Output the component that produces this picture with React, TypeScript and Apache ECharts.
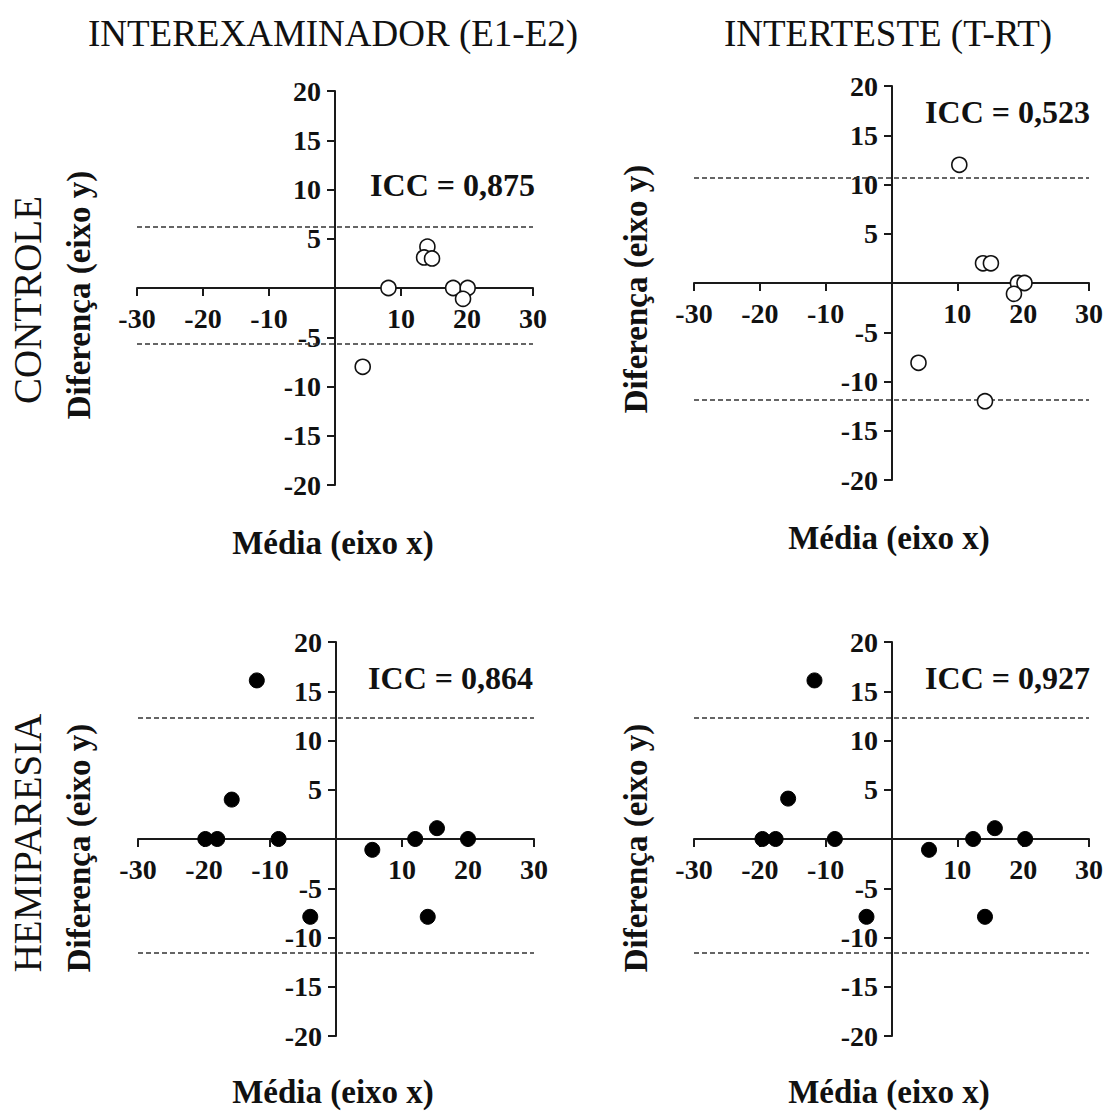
import React, { useEffect, useRef } from "react";
import * as echarts from "echarts";

const FONT = '"Liberation Serif", "Times New Roman", serif';

// Column / row labels
const colTitles = ["INTEREXAMINADOR (E1-E2)", "INTERTESTE (T-RT)"];
const rowTitles = ["CONTROLE", "HEMIPARESIA"];
const iccLabels = ["ICC = 0,875", "ICC = 0,523", "ICC = 0,864", "ICC = 0,927"];
const xAxisTitle = "Média (eixo x)";
const yAxisTitle = "Diferença (eixo y)";

// Axis ranges
const xMin = -30, xMax = 30, xStep = 10;
const yMin = -20, yMax = 20, yStep = 5;

// Panel 1: Controle, interexaminador
const p1X = [8.1, 4.2, 14.0, 13.5, 14.7, 17.9, 20.1, 19.4];
const p1Y = [0, -8, 4.2, 3.1, 3.0, 0, 0, -1.1];
const p1Limits = [6.2, -5.7];

// Panel 2: Controle, interteste
const p2X = [10.3, 14.2, 4.1, 13.9, 15.1, 19.2, 20.2, 18.6];
const p2Y = [12, -12, -8.1, 2, 2, 0, 0, -1.1];
const p2Limits = [10.7, -11.9];

// Panel 3: Hemiparesia, interexaminador
const p3X = [-12, -15.8, -19.8, -18, -8.7, -3.9, 5.5, 12, 15.3, 20, 13.9];
const p3Y = [16.1, 4, 0, 0, 0, -7.9, -1.1, 0, 1.1, 0, -7.9];
const p3Limits = [12.3, -11.5];

// Panel 4: Hemiparesia, interteste
const p4X = [-11.7, -15.7, -19.6, -17.6, -8.6, -3.8, 5.7, 12.4, 15.7, 20.3, 14.2];
const p4Y = [16.1, 4.1, 0, 0, 0, -7.9, -1.1, 0, 1.1, 0, -7.9];
const p4Limits = [12.3, -11.5];

const panels = [
  { xs: p1X, ys: p1Y, limits: p1Limits, filled: false },
  { xs: p2X, ys: p2Y, limits: p2Limits, filled: false },
  { xs: p3X, ys: p3Y, limits: p3Limits, filled: true },
  { xs: p4X, ys: p4Y, limits: p4Limits, filled: true },
];

const grids = [
  { left: 137, top: 91, width: 396, height: 394 },
  { left: 694, top: 86, width: 396, height: 394 },
  { left: 138, top: 642, width: 396, height: 394 },
  { left: 694, top: 642, width: 396, height: 394 },
];

export default function App() {
  const ref = useRef<HTMLDivElement>(null);

  useEffect(() => {
    if (!ref.current) return;
    const chart = echarts.init(ref.current, undefined, { renderer: "svg" });

    const fmt = (v: number) => (v === 0 ? "" : String(v));

    // axes cross at (0, 0), which is the centre of each symmetric range
    const xAxis = grids.map((g, i) => ({
      type: "value",
      gridIndex: i,
      position: "bottom",
      offset: -g.height / 2,
      min: xMin,
      max: xMax,
      interval: xStep,
      axisLine: { show: true, onZero: false, lineStyle: { color: "#1a1a1a", width: 2 } },
      axisTick: { show: true, length: 8, lineStyle: { color: "#1a1a1a", width: 2 } },
      axisLabel: {
        formatter: fmt,
        margin: 16,
        fontFamily: FONT,
        fontWeight: "bold",
        fontSize: 28,
        color: "#111",
      },
      splitLine: { show: false },
    }));

    const yAxis = grids.map((g, i) => ({
      type: "value",
      gridIndex: i,
      position: "left",
      offset: -g.width / 2,
      min: yMin,
      max: yMax,
      interval: yStep,
      axisLine: { show: true, onZero: false, lineStyle: { color: "#1a1a1a", width: 2 } },
      axisTick: { show: true, length: 8, lineStyle: { color: "#1a1a1a", width: 2 } },
      axisLabel: {
        formatter: fmt,
        margin: 14,
        fontFamily: FONT,
        fontWeight: "bold",
        fontSize: 28,
        color: "#111",
      },
      splitLine: { show: false },
    }));

    const series = panels.map((p, i) => ({
      type: "scatter",
      xAxisIndex: i,
      yAxisIndex: i,
      symbol: "circle",
      symbolSize: 15,
      itemStyle: p.filled
        ? { color: "#000", borderColor: "#000", borderWidth: 1, opacity: 1 }
        : { color: "#fff", borderColor: "#111", borderWidth: 1.6, opacity: 1 },
      data: p.xs.map((x, k) => [x, p.ys[k]]),
      z: 5,
      markLine: {
        silent: true,
        symbol: ["none", "none"],
        label: { show: false },
        lineStyle: { type: [5, 3], color: "#333", width: 1.6 },
        data: p.limits.map((v) => ({ yAxis: v })),
      },
    }));

    const textStyle = (size: number, bold: boolean) => ({
      fontFamily: FONT,
      fontSize: size,
      fontWeight: bold ? "bold" : "normal",
      fill: "#111",
    });

    const graphic: any[] = [];
    // column titles
    [333, 888].forEach((cx, i) =>
      graphic.push({
        type: "text",
        x: cx,
        y: 33,
        style: { text: colTitles[i], align: "center", verticalAlign: "middle", ...textStyle(37, false) },
      })
    );
    // row titles
    [300, 843].forEach((cy, i) =>
      graphic.push({
        type: "text",
        x: 27,
        y: cy,
        rotation: Math.PI / 2,
        style: { text: rowTitles[i], align: "center", verticalAlign: "middle", ...textStyle(39, false) },
      })
    );
    // ICC labels
    const iccPos = [
      [535, 185],
      [1090, 112],
      [533, 678],
      [1090, 678],
    ];
    iccPos.forEach(([x, y], i) =>
      graphic.push({
        type: "text",
        x,
        y,
        style: { text: iccLabels[i], align: "right", verticalAlign: "middle", ...textStyle(32, true) },
      })
    );
    // x-axis titles
    const xtPos = [
      [333, 543],
      [889, 538],
      [333, 1092],
      [889, 1092],
    ];
    xtPos.forEach(([x, y]) =>
      graphic.push({
        type: "text",
        x,
        y,
        style: { text: xAxisTitle, align: "center", verticalAlign: "middle", ...textStyle(33, true) },
      })
    );
    // y-axis titles
    const ytPos = [
      [79, 295],
      [636, 289],
      [79, 848],
      [636, 848],
    ];
    ytPos.forEach(([x, y]) =>
      graphic.push({
        type: "text",
        x,
        y,
        rotation: Math.PI / 2,
        style: { text: yAxisTitle, align: "center", verticalAlign: "middle", ...textStyle(33, true) },
      })
    );

    chart.setOption({
      animation: false,
      backgroundColor: "#fff",
      grid: grids.map((g) => ({ ...g, containLabel: false })),
      xAxis,
      yAxis,
      series,
      graphic,
    });

    return () => chart.dispose();
  }, []);

  return (
    <div
      ref={ref}
      style={{ position: "absolute", left: 0, top: 0, width: 1106, height: 1111 }}
    />
  );
}
